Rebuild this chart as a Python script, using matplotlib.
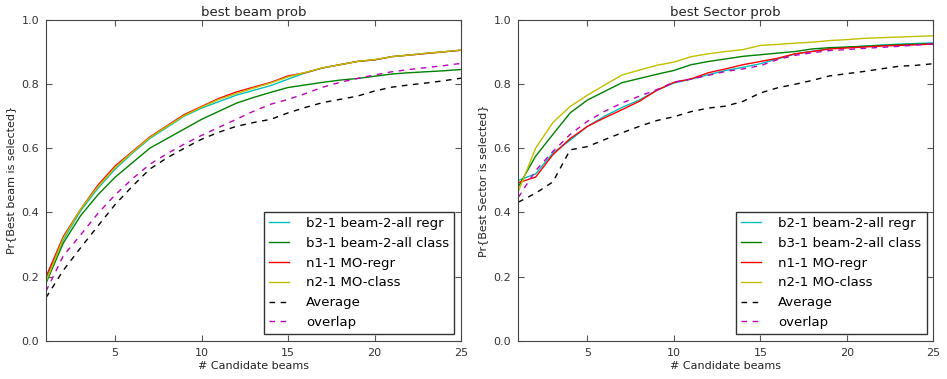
import numpy as np
import matplotlib
matplotlib.use('Agg')
import matplotlib.pyplot as plt

# number of candidate beams
n_cand = np.arange(1, 26)

# left panel: best beam prob
beam_b2 = [0.195, 0.315, 0.405, 0.475, 0.535, 0.585, 0.630, 0.665, 0.700, 0.725, 0.745, 0.765, 0.780,
           0.795, 0.815, 0.835, 0.850, 0.860, 0.870, 0.875, 0.885, 0.890, 0.895, 0.900, 0.905]
beam_b3 = [0.180, 0.305, 0.390, 0.455, 0.510, 0.555, 0.600, 0.630, 0.660, 0.690, 0.715, 0.740, 0.758,
           0.774, 0.789, 0.797, 0.805, 0.812, 0.817, 0.824, 0.831, 0.835, 0.838, 0.841, 0.845]
beam_n1 = [0.200, 0.325, 0.410, 0.485, 0.545, 0.590, 0.635, 0.670, 0.705, 0.730, 0.755, 0.775, 0.790,
           0.805, 0.825, 0.835, 0.850, 0.860, 0.870, 0.875, 0.885, 0.890, 0.895, 0.900, 0.905]
beam_n2 = [0.185, 0.320, 0.410, 0.480, 0.540, 0.588, 0.633, 0.668, 0.702, 0.728, 0.752, 0.770, 0.787,
           0.803, 0.822, 0.836, 0.850, 0.860, 0.870, 0.876, 0.885, 0.890, 0.896, 0.900, 0.906]
beam_avg = [0.135, 0.220, 0.290, 0.358, 0.425, 0.482, 0.535, 0.570, 0.600, 0.628, 0.650, 0.668, 0.680,
            0.690, 0.710, 0.727, 0.742, 0.752, 0.762, 0.778, 0.790, 0.797, 0.803, 0.810, 0.818]
beam_ovl = [0.155, 0.265, 0.330, 0.397, 0.455, 0.505, 0.550, 0.583, 0.613, 0.640, 0.665, 0.690, 0.715,
            0.737, 0.752, 0.770, 0.790, 0.805, 0.817, 0.828, 0.838, 0.845, 0.851, 0.857, 0.864]

# right panel: best Sector prob
sec_b2 = [0.500, 0.520, 0.585, 0.625, 0.668, 0.700, 0.727, 0.750, 0.780, 0.803, 0.815, 0.829, 0.842,
          0.852, 0.863, 0.878, 0.893, 0.902, 0.910, 0.914, 0.918, 0.921, 0.924, 0.926, 0.928]
sec_b3 = [0.480, 0.575, 0.643, 0.710, 0.750, 0.777, 0.804, 0.817, 0.830, 0.842, 0.860, 0.870, 0.878,
          0.886, 0.891, 0.896, 0.901, 0.909, 0.913, 0.915, 0.917, 0.920, 0.922, 0.924, 0.925]
sec_n1 = [0.493, 0.510, 0.580, 0.630, 0.668, 0.695, 0.720, 0.746, 0.780, 0.805, 0.816, 0.835, 0.847,
          0.860, 0.870, 0.880, 0.894, 0.901, 0.909, 0.912, 0.915, 0.918, 0.920, 0.922, 0.924]
sec_n2 = [0.465, 0.600, 0.680, 0.730, 0.765, 0.797, 0.828, 0.843, 0.858, 0.868, 0.885, 0.894, 0.901,
          0.907, 0.920, 0.923, 0.927, 0.930, 0.935, 0.938, 0.942, 0.944, 0.946, 0.948, 0.950]
sec_avg = [0.432, 0.460, 0.495, 0.595, 0.605, 0.627, 0.648, 0.668, 0.686, 0.698, 0.714, 0.725, 0.731,
           0.746, 0.772, 0.788, 0.799, 0.811, 0.825, 0.832, 0.839, 0.847, 0.855, 0.858, 0.863]
sec_ovl = [0.447, 0.530, 0.590, 0.643, 0.684, 0.715, 0.741, 0.762, 0.782, 0.806, 0.815, 0.827, 0.839,
           0.847, 0.857, 0.876, 0.889, 0.897, 0.904, 0.907, 0.911, 0.914, 0.917, 0.921, 0.925]

labels = ['b2-1 beam-2-all regr', 'b3-1 beam-2-all class', 'n1-1 MO-regr', 'n2-1 MO-class',
          'Average', 'overlap']
styles = [('c', '-'), ('g', '-'), ('r', '-'), ('y', '-'), ('k', '--'), ('m', '--')]

fig = plt.figure(figsize=(9.47, 3.79), dpi=100)
ax1 = fig.add_axes([0.0486, 0.1003, 0.4382, 0.8477])
ax2 = fig.add_axes([0.5473, 0.1003, 0.4382, 0.8477])

panels = [(ax1, [beam_b2, beam_b3, beam_n1, beam_n2, beam_avg, beam_ovl],
           'best beam prob', 'Pr{Best beam is selected}'),
          (ax2, [sec_b2, sec_b3, sec_n1, sec_n2, sec_avg, sec_ovl],
           'best Sector prob', 'Pr{Best Sector is selected}')]

for ax, series, title, ylabel in panels:
    for vals, lab, (col, ls) in zip(series, labels, styles):
        line, = ax.plot(n_cand, vals, color=col, linestyle=ls, linewidth=1, label=lab)
        if ls == '--':
            line.set_dashes((4, 4))
    ax.set_xlim(1, 25)
    ax.set_ylim(0, 1)
    ax.set_xticks([5, 10, 15, 20, 25])
    ax.set_yticks([0.0, 0.2, 0.4, 0.6, 0.8, 1.0])
    ax.set_yticklabels(['0.0', '0.2', '0.4', '0.6', '0.8', '1.0'])
    ax.tick_params(direction='in', top=True, right=True, labelsize=8, length=4, color='#555555',
                   labelcolor='#333333', pad=5)
    for sp in ax.spines.values():
        sp.set_color('#444444')
    ax.set_title(title, fontsize=9.5, color='#222222', pad=3)
    ax.set_xlabel('# Candidate beams', fontsize=8, color='#222222', labelpad=2)
    ax.set_ylabel(ylabel, fontsize=8, color='#222222', labelpad=4)
    leg = ax.legend(loc='lower right', fontsize=9.5, fancybox=False, framealpha=1,
                    handlelength=1.5, handletextpad=1.3, borderaxespad=0.5, labelspacing=0.52)
    leg.get_frame().set_edgecolor('#333333')
    leg.get_frame().set_linewidth(1)

fig.savefig('out.png', dpi=100)
